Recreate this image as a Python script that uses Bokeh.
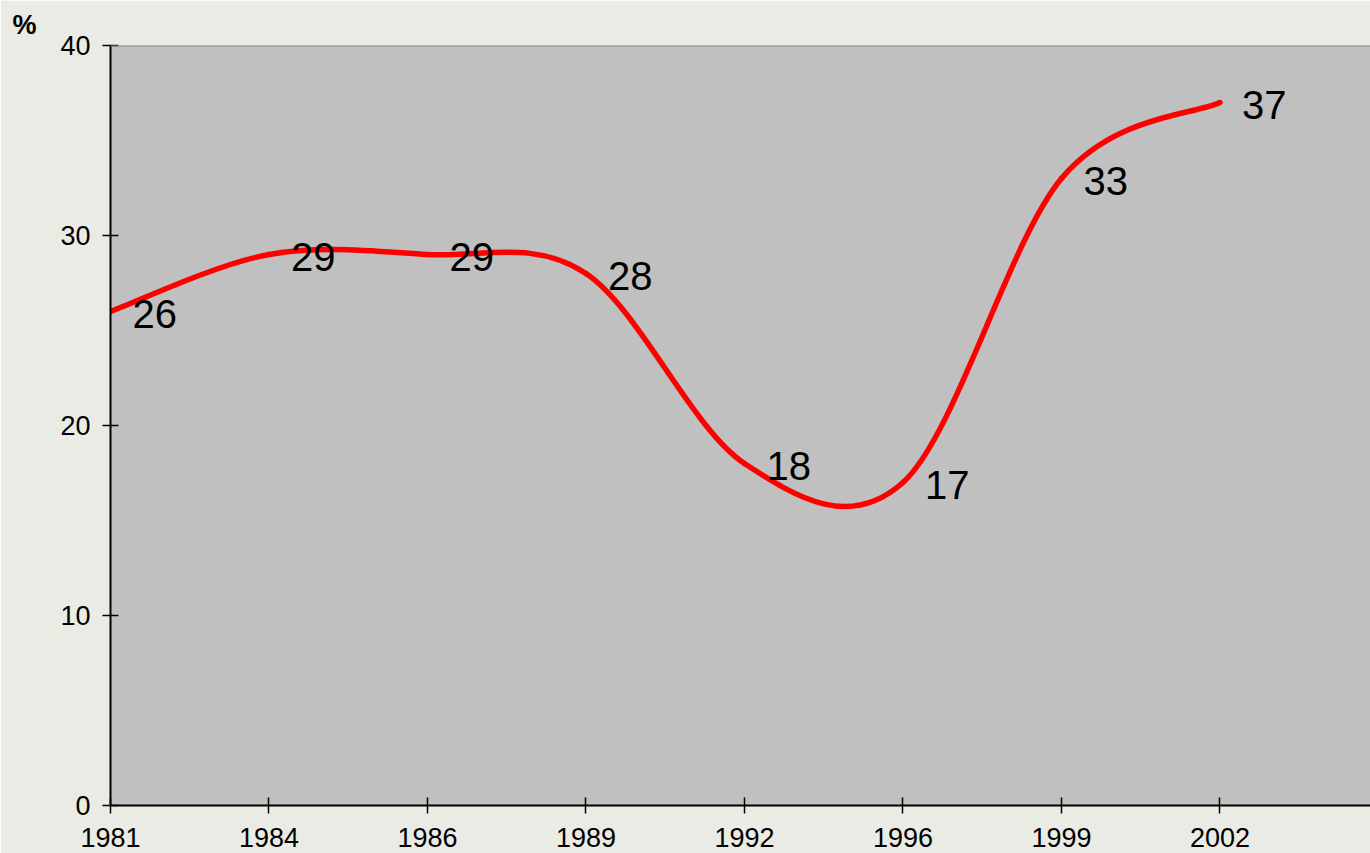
import numpy as np
from bokeh.plotting import figure
from bokeh.models import Range1d, FixedTicker, Span, Title
from bokeh.core.properties import value
from bokeh.embed import file_html
from bokeh.resources import INLINE

years = ["1981", "1984", "1986", "1989", "1992", "1996", "1999", "2002"]
share = [26, 29, 29, 28, 18, 17, 33, 37]
y_ticks = [0, 10, 20, 30, 40]

xs = np.arange(len(years), dtype=float)
ys = np.array(share, dtype=float)

# smoothed line (Catmull-Rom style Bezier segments, as in the original's smoothed series)
xp = np.concatenate([[xs[0]], xs, [xs[-1]]])
yp = np.concatenate([[ys[0]], ys, [ys[-1]]])
x0, y0 = xs[:-1], ys[:-1]
x1, y1 = xs[1:], ys[1:]
cx0 = xs[:-1] + (xp[2:-1] - xp[:-3]) / 6.0
cy0 = ys[:-1] + (yp[2:-1] - yp[:-3]) / 6.0
cx1 = xs[1:] - (xp[3:] - xp[1:-2]) / 6.0
cy1 = ys[1:] - (yp[3:] - yp[1:-2]) / 6.0

FONT = "Liberation Sans"

p = figure(width=1370, height=853, output_backend="svg", toolbar_location=None,
           x_range=Range1d(0, 7.95), y_range=Range1d(0, 40),
           min_border_left=110, min_border_right=0, min_border_top=45, min_border_bottom=48)
p.background_fill_color = "#c0c0c0"
p.border_fill_color = "#ebebe6"
p.outline_line_color = None
p.xgrid.visible = False
p.ygrid.visible = False

p.bezier(x0=x0, y0=y0, x1=x1, y1=y1, cx0=cx0, cy0=cy0, cx1=cx1, cy1=cy1,
         line_color="#ff0000", line_width=5.5, line_cap="round")

p.text(x=xs, y=ys, text=[str(v) for v in share], x_offset=22, y_offset=2,
       text_align="left", text_baseline="middle", text_color="black",
       text_font=value(FONT), text_font_size="40px")

p.add_layout(Span(location=40, dimension="width", line_color="#8a8a8a", line_width=2))

for ax in (p.xaxis[0], p.yaxis[0]):
    ax.axis_line_color = "black"
    ax.axis_line_width = 2
    ax.major_tick_line_color = "black"
    ax.major_tick_line_width = 1.5
    ax.major_tick_in = 8
    ax.major_tick_out = 8
    ax.minor_tick_line_color = None
    ax.major_label_text_font = FONT
    ax.major_label_text_font_size = "27px"
    ax.major_label_text_color = "black"

p.xaxis.ticker = FixedTicker(ticks=list(xs))
p.xaxis.major_label_overrides = {i: y for i, y in enumerate(years)}
p.xaxis.major_label_standoff = 14
p.yaxis.ticker = FixedTicker(ticks=y_ticks)
p.yaxis.major_label_standoff = 12

p.add_layout(Title(text="%", align="left", offset=-98, text_font=FONT,
                   text_font_size="27px", text_font_style="bold", text_color="black",
                   standoff=12), "above")

open("out.html", "w").write(file_html(p, INLINE))
